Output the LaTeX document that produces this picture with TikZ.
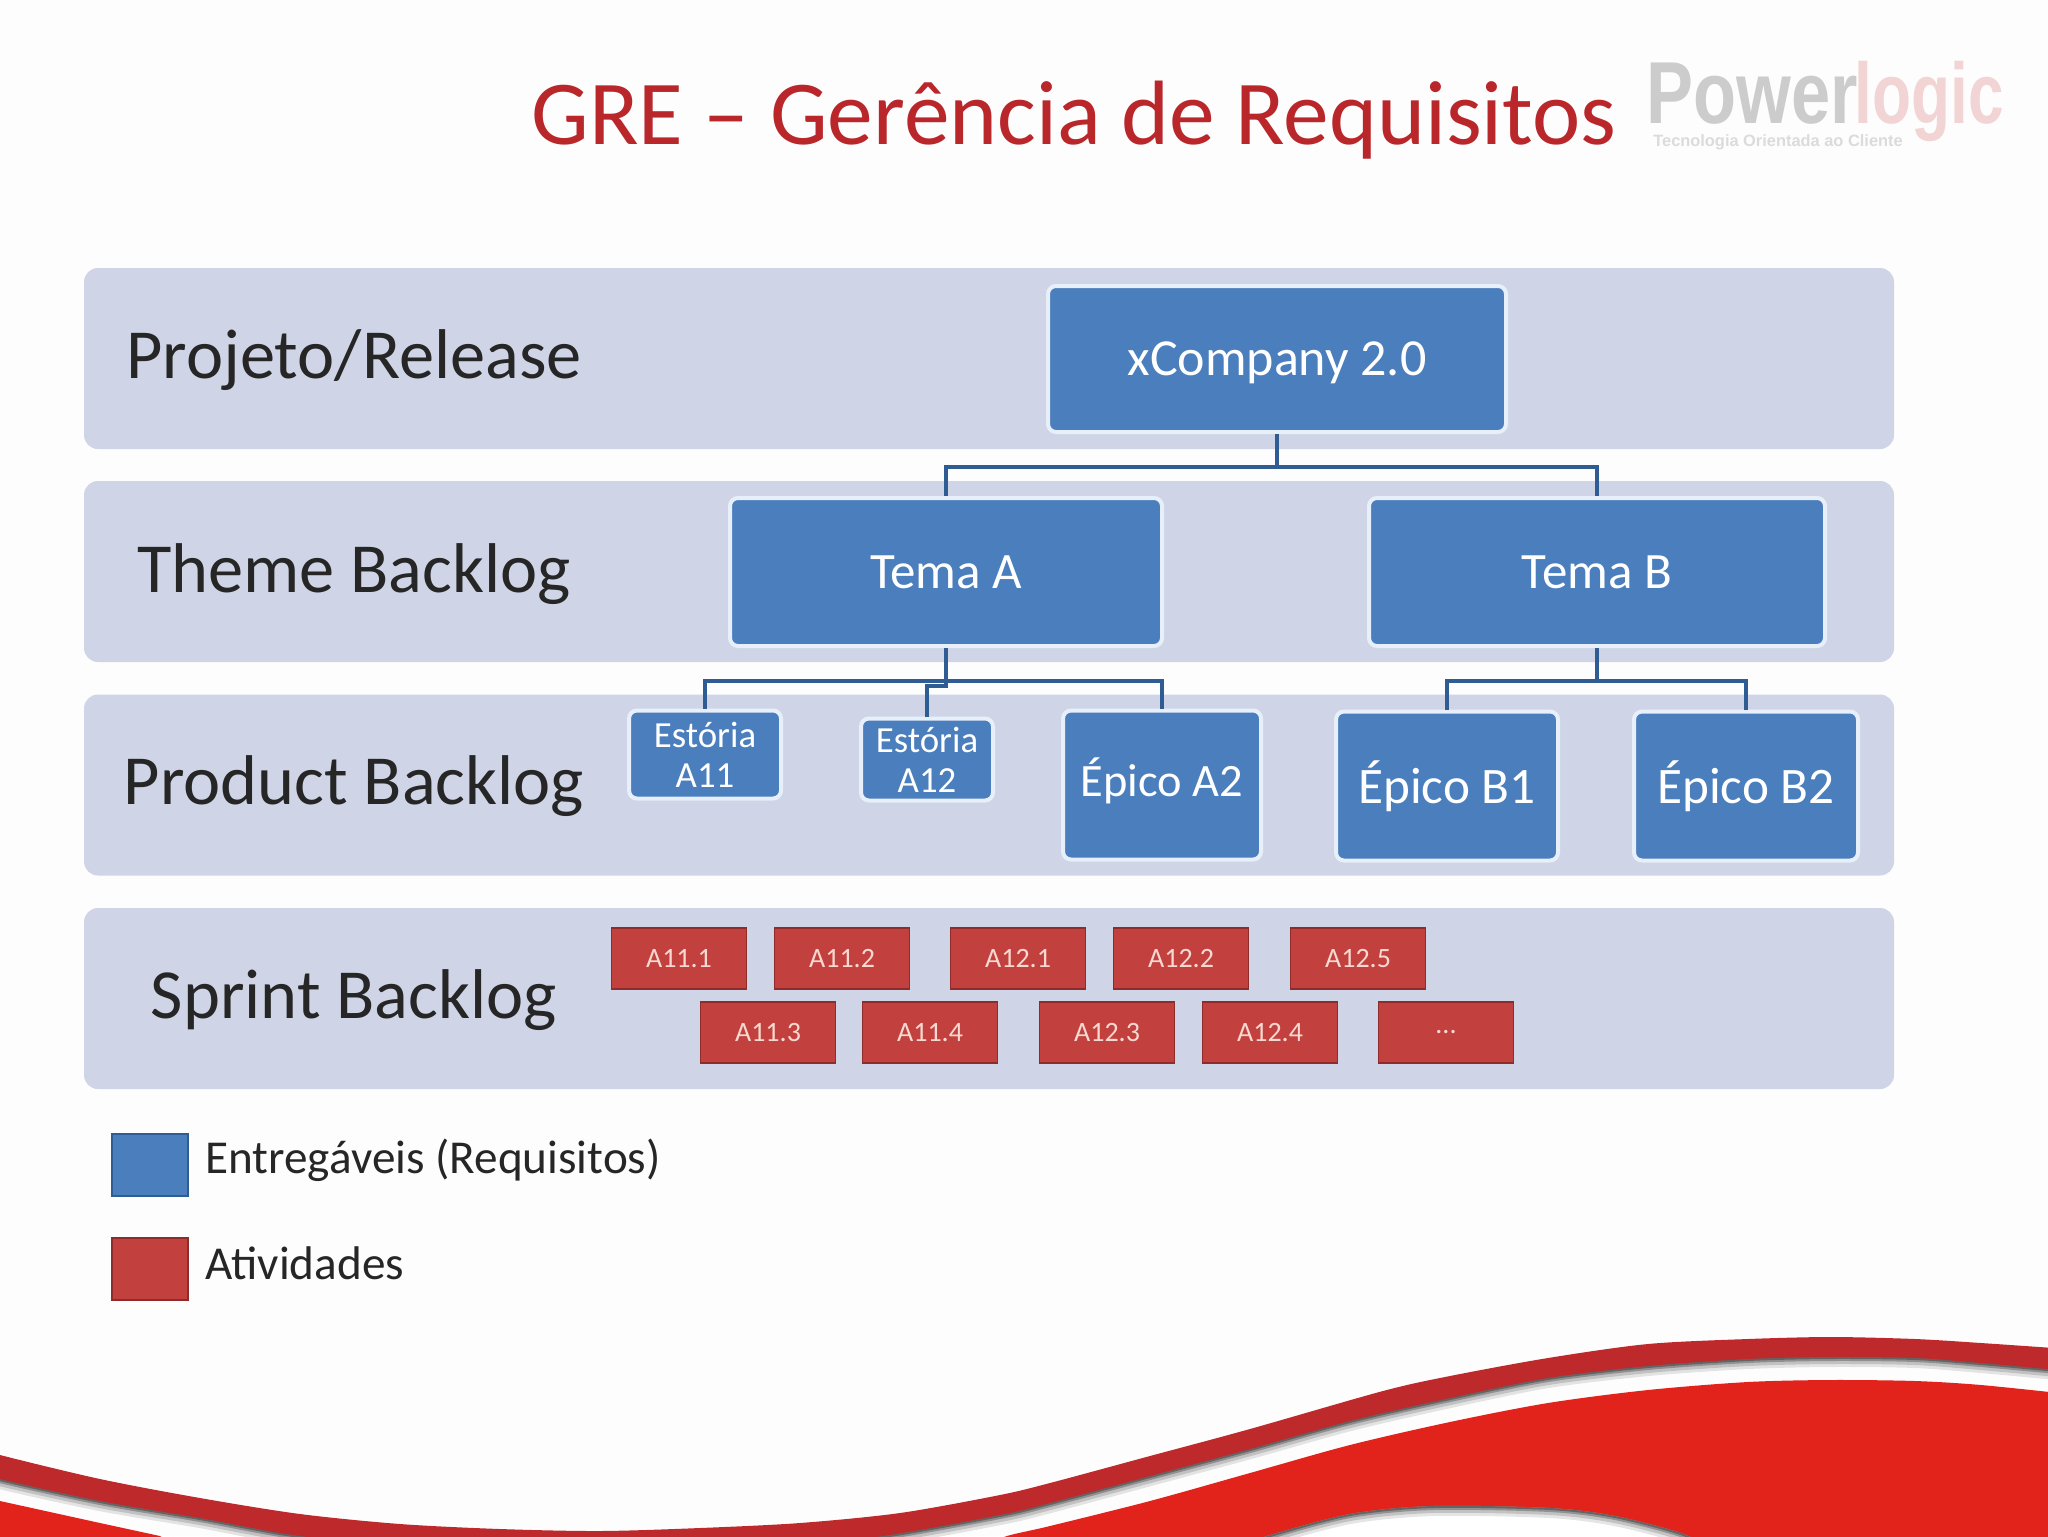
\documentclass[tikz,border=0pt]{standalone}
\usepackage{fontspec}
\setmainfont{Carlito}
\newfontfamily\logofont{Liberation Sans}
\definecolor{pagecol}{HTML}{FDFDFE}
\definecolor{bandcol}{HTML}{CFD5E6}
\definecolor{bluecol}{HTML}{4A7EBC}
\definecolor{edgecol}{HTML}{E6EFFA}
\definecolor{linecol}{HTML}{2F5C92}
\definecolor{redcol}{HTML}{C2413E}
\definecolor{reddark}{HTML}{8E2C2B}
\definecolor{redtext}{HTML}{F8D8D0}
\definecolor{titlecol}{HTML}{B9272B}
\definecolor{wavedark}{HTML}{BE2A2B}
\definecolor{wavefill}{HTML}{E1231B}
\definecolor{inkcol}{HTML}{262626}
\begin{document}
\begin{tikzpicture}[x=0.5pt,y=-0.5pt,
	bandbox/.style={fill=bandcol,rounded corners=7pt,minimum width=905pt,inner sep=0pt},
	bandtext/.style={text=inkcol,font=\fontsize{35.2}{40}\selectfont},
	delivbox/.style={fill=bluecol,draw=edgecol,line width=2pt,rounded corners=4pt,inner sep=0pt,text=white,align=center},
	taskbox/.style={fill=redcol,draw=reddark,line width=0.9pt,inner sep=0pt,minimum width=67.5pt,minimum height=30.5pt,text=redtext,font=\fontsize{14}{16}\selectfont},
	legendtext/.style={text=inkcol,anchor=west,inner sep=0pt,font=\fontsize{23.6}{28}\selectfont},
	logotext/.style={anchor=base,inner sep=0pt},
	conn/.style={draw=linecol,line width=1.7pt}]
	\useasboundingbox (0,0) rectangle (2048,1536);
	\fill[pagecol] (0,0) rectangle (2048,1536);

	\node (title) at (1074,120)	[text=titlecol,font=\fontsize{45.7}{52}\selectfont]	{GRE -- Gerência de Requisitos};
	\node (logoa) at (1752,123)	[logotext,text=black!20,xscale=0.8,font=\logofont\bfseries\fontsize{44}{50}\selectfont]	{Power};
	\node (logob) at (1929,123)	[logotext,text=red!70!black!17,xscale=0.743,font=\logofont\bfseries\fontsize{43}{50}\selectfont]	{logic};
	\node (logoc) at (1778,147)	[logotext,text=black!14,font=\logofont\bfseries\fontsize{8.2}{9}\selectfont]	{Tecnologia Orientada ao Cliente};

	\node (band1) at (989,358.5)	[bandbox,minimum height=90.5pt]	{};
	\node (band2) at (989,571.5)	[bandbox,minimum height=90.5pt]	{};
	\node (band3) at (989,785)	[bandbox,minimum height=90.5pt]	{};
	\node (band4) at (989,998.5)	[bandbox,minimum height=90.5pt]	{};

	\node (lab1) at (354,360)	[bandtext]	{Projeto/Release};
	\node (lab2) at (354,574)	[bandtext]	{Theme Backlog};
	\node (lab3) at (354,786)	[bandtext]	{Product Backlog};
	\node (lab4) at (354,1000)	[bandtext]	{Sprint Backlog};

	\node (xcomp) at (1277,359)	[delivbox,minimum width=229pt,minimum height=73pt,text height=21pt,font=\fontsize{26}{30}\selectfont]	{xCompany 2.0};
	\node (temaa) at (946,572)	[delivbox,minimum width=216pt,minimum height=74pt,font=\fontsize{25.5}{30}\selectfont]	{Tema A};
	\node (temab) at (1597,572)	[delivbox,minimum width=228pt,minimum height=74pt,font=\fontsize{25.5}{30}\selectfont]	{Tema B};
	\node (est11) at (705,754.5)	[delivbox,minimum width=76pt,minimum height=44pt,font=\fontsize{18.4}{20}\selectfont]	{Estória\\A11};
	\node (est12) at (927,759.5)	[delivbox,minimum width=66pt,minimum height=41pt,font=\fontsize{18.4}{20}\selectfont]	{Estória\\A12};
	\node (epa2) at (1162,785)	[delivbox,minimum width=99pt,minimum height=74.5pt,text depth=8pt,font=\fontsize{23.2}{27}\selectfont]	{Épico A2};
	\node (epb1) at (1447,786)	[delivbox,minimum width=111pt,minimum height=74.5pt,font=\fontsize{25.6}{29}\selectfont]	{Épico B1};
	\node (epb2) at (1746,786)	[delivbox,minimum width=112pt,minimum height=74.5pt,font=\fontsize{25.6}{29}\selectfont]	{Épico B2};

	\draw[conn] (xcomp.south) -- ++(0,33) -| (temaa.north);
	\draw[conn] (xcomp.south) -- ++(0,33) -| (temab.north);
	\draw[conn] (temaa.south) -- ++(0,33) -| (est11.north);
	\draw[conn] (temaa.south) -- ++(0,33) -| (epa2.north);
	\draw[conn] (temaa.south) -- ++(0,38) -| (est12.north);
	\draw[conn] (temab.south) -- ++(0,33) -| (epb1.north);
	\draw[conn] (temab.south) -- ++(0,33) -| (epb2.north);

	\node (t111) at (679,958.5)	[taskbox]	{A11.1};
	\node (t112) at (842,958.5)	[taskbox]	{A11.2};
	\node (t121) at (1018,958.5)	[taskbox]	{A12.1};
	\node (t122) at (1181,958.5)	[taskbox]	{A12.2};
	\node (t125) at (1358,958.5)	[taskbox]	{A12.5};
	\node (t113) at (768,1032.5)	[taskbox]	{A11.3};
	\node (t114) at (930,1032.5)	[taskbox]	{A11.4};
	\node (t123) at (1107,1032.5)	[taskbox]	{A12.3};
	\node (t124) at (1270,1032.5)	[taskbox]	{A12.4};
	\node (tdots) at (1446,1032.5)	[taskbox]	{...};

	\node (leg1) at (150,1165)	[fill=bluecol,draw=linecol,line width=0.9pt,minimum width=38pt,minimum height=31pt,inner sep=0pt]	{};
	\node (leg2) at (150,1269)	[fill=redcol,draw=reddark,line width=0.9pt,minimum width=38pt,minimum height=31pt,inner sep=0pt]	{};
	\node (legt1) at (205,1160)	[legendtext]	{Entregáveis (Requisitos)};
	\node (legt2) at (205,1263)	[legendtext]	{Atividades};

	\begin{scope}
	\clip (0,0) rectangle (2048,1536);
	\foreach \w/\o in {10/0.1,7/0.15,4/0.25,2/0.3}
		\draw[black,line width=\w pt,opacity=\o] plot[smooth] coordinates {(-20,1471) (0,1479) (100,1501) (200,1518) (300,1536) (450,1552) (600,1558) (750,1552) (883,1536) (1000,1515) (1050,1503) (1150,1476) (1250,1449) (1350,1421) (1450,1398) (1548,1378) (1648,1366) (1748,1359) (1831,1357) (1915,1358) (1981,1363) (2068,1371)};
	\fill[wavedark] plot[smooth] coordinates {(-20,1448) (0,1455) (100,1479) (200,1498) (300,1514) (400,1524) (500,1529) (600,1531) (700,1528) (800,1523) (900,1513) (1000,1495) (1050,1483) (1150,1456) (1250,1429) (1383,1391) (1450,1376) (1548,1358) (1648,1344) (1748,1339) (1831,1337) (1915,1339) (1981,1343) (2068,1349)}
		-- plot[smooth] coordinates {(2068,1371) (1981,1363) (1915,1358) (1831,1357) (1748,1359) (1648,1366) (1548,1378) (1450,1398) (1350,1421) (1250,1449) (1150,1476) (1050,1503) (1000,1515) (883,1536) (750,1552) (600,1558) (450,1552) (300,1536) (200,1518) (100,1501) (0,1479) (-20,1471)} -- cycle;
	\fill[wavefill] (-20,1495) -- (0,1501) -- (100,1523) -- (160,1536) -- (180,1550) -- (-20,1550) -- cycle;
	\fill[wavefill] plot[smooth] coordinates {(985,1546) (1007,1536) (1050,1526) (1150,1501) (1250,1473) (1350,1445) (1450,1422) (1548,1403) (1648,1390) (1748,1382) (1831,1380) (1915,1381) (1981,1385) (2068,1394)}
		-- (2068,1550) -- cycle;
	\fill[white] plot[smooth] coordinates {(1240,1548) (1267,1536) (1350,1514) (1433,1506) (1550,1508) (1615,1516) (1681,1533) (1710,1548)} -- cycle;
	\begin{scope}
	\clip plot[smooth] coordinates {(1240,1548) (1267,1536) (1350,1514) (1433,1506) (1550,1508) (1615,1516) (1681,1533) (1710,1548)} -- cycle;
	\foreach \w/\o in {10/0.1,7/0.15,4/0.25,2/0.3}
		\draw[black,line width=\w pt,opacity=\o] plot[smooth] coordinates {(1240,1548) (1267,1536) (1350,1514) (1433,1506) (1550,1508) (1615,1516) (1681,1533) (1710,1548)};
	\end{scope}
	\end{scope}
\end{tikzpicture}
\end{document}
